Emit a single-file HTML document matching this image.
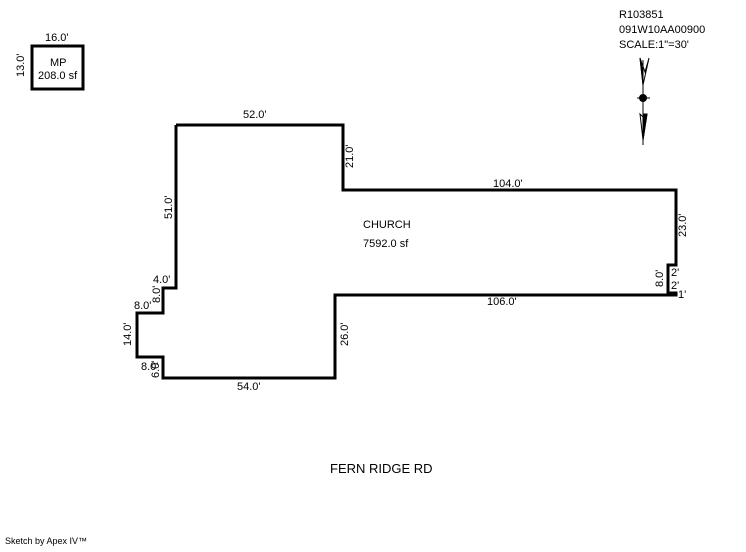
<!DOCTYPE html>
<html><head><style>
body{margin:0;background:#fff;width:746px;height:547px;overflow:hidden;}
svg text{font-family:"Liberation Sans",sans-serif;font-size:11px;fill:#000;}
</style></head><body>
<svg width="746" height="547" xmlns="http://www.w3.org/2000/svg">
<rect x="32" y="46" width="51" height="43" fill="none" stroke="#000" stroke-width="3"/>
<text x="45" y="41">16.0'</text>
<text transform="translate(24,77) rotate(-90)">13.0'</text>
<text x="50" y="66">MP</text>
<text x="38" y="79">208.0 sf</text>

<text x="619" y="18">R103851</text>
<text x="619" y="33">091W10AA00900</text>
<text x="619" y="48">SCALE:1"=30'</text>
<g stroke="#000">
<line x1="643" y1="60" x2="643" y2="145" stroke-width="1"/>
<path d="M640,58 L643,85 L649,58 L645,72 Z" fill="none" stroke-width="1"/>
<path d="M640,58 L643,85 L643,72 Z" fill="#000" stroke-width="1"/>
<path d="M640,114 L643,140 L647,114 L644,118 Z" fill="none" stroke-width="1"/>
<path d="M643,114 L643,140 L647,114 Z" fill="#000" stroke-width="1"/>
<circle cx="643" cy="98" r="3.5" fill="#000"/>
<line x1="637" y1="98" x2="650" y2="98" stroke-width="1"/>
</g>

<polyline fill="none" stroke="#000" stroke-width="3" points="176,125 343,125 343,190 676,190 676,265 668,265 668,293 676,293 676,295 335,295 335,378 163,378 163,357 137,357 137,313 163,313 163,288 176,288 176,125"/>

<text x="243" y="118">52.0'</text>
<text transform="translate(353,168) rotate(-90)">21.0'</text>
<text x="493" y="187">104.0'</text>
<text transform="translate(686,237) rotate(-90)">23.0'</text>
<text transform="translate(663,287) rotate(-90)">8.0'</text>
<text x="671" y="276">2'</text>
<text x="671" y="289">2'</text>
<text x="678" y="298">1'</text>
<text x="487" y="305">106.0'</text>
<text transform="translate(348,346) rotate(-90)">26.0'</text>
<text x="237" y="390">54.0'</text>
<text transform="translate(172,219) rotate(-90)">51.0'</text>
<text x="153" y="283">4.0'</text>
<text x="134" y="309">8.0'</text>
<text transform="translate(160,303) rotate(-90)">8.0'</text>
<text transform="translate(131,346) rotate(-90)">14.0'</text>
<text x="141" y="370">8.0'</text>
<text transform="translate(159,378) rotate(-90)">6.0'</text>
<text x="363" y="228">CHURCH</text>
<text x="363" y="247">7592.0 sf</text>
<text x="330" y="473" style="font-size:13px">FERN RIDGE RD</text>
<text x="5" y="544" style="font-size:9px">Sketch by Apex IV™</text>
</svg>
</body></html>
